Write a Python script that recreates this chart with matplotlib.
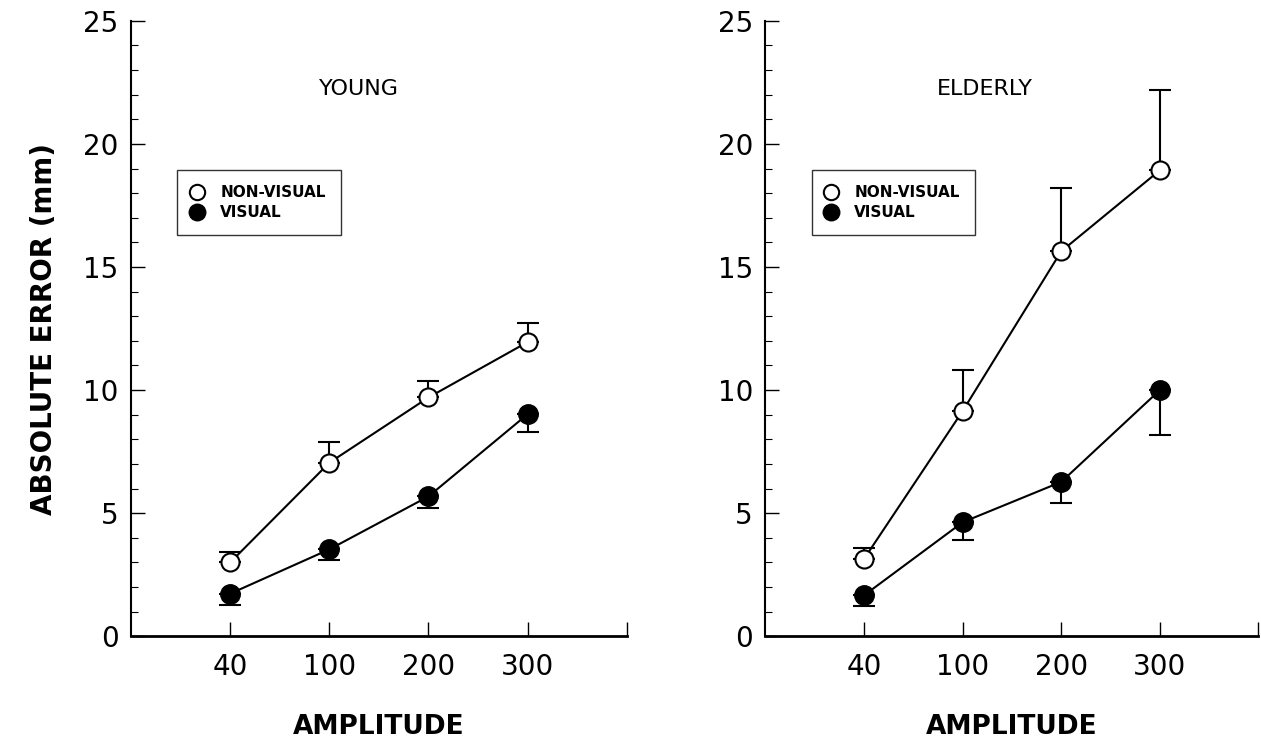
import numpy as np
import matplotlib
matplotlib.use('Agg')
import matplotlib.pyplot as plt
from matplotlib.ticker import MultipleLocator

# data
amplitudes = ['40', '100', '200', '300']
groups = ['YOUNG', 'ELDERLY']

young_nonvis = [3.0, 7.05, 9.7, 11.95]
young_nonvis_err = [0.42, 0.85, 0.68, 0.78]
young_vis = [1.73, 3.53, 5.68, 9.02]
young_vis_err = [0.48, 0.43, 0.46, 0.72]

elderly_nonvis = [3.14, 9.15, 15.64, 18.93]
elderly_nonvis_err = [0.45, 1.65, 2.55, 3.25]
elderly_vis = [1.66, 4.63, 6.27, 10.0]
elderly_vis_err = [0.44, 0.73, 0.85, 1.83]

plt.rcParams['font.family'] = ['DejaVu Sans']

fig = plt.figure(figsize=(12.61, 7.45), dpi=100)
ax1 = fig.add_axes([0.104, 0.146, 0.393, 0.826])
ax2 = fig.add_axes([0.607, 0.146, 0.391, 0.826])

series = [
    (ax1, groups[0], young_nonvis, young_nonvis_err, young_vis, young_vis_err, 0.46),
    (ax2, groups[1], elderly_nonvis, elderly_nonvis_err, elderly_vis, elderly_vis_err, 0.446),
]

x = np.arange(1, len(amplitudes) + 1)

for ax, name, nv, nv_err, v, v_err, tx in series:
    # error bars: non-visual upward only, visual downward only
    ax.errorbar(x, nv, yerr=[np.zeros(len(nv)), nv_err], fmt='none',
                ecolor='black', elinewidth=1.5, capsize=8, capthick=1.5, zorder=2)
    ax.errorbar(x, v, yerr=[v_err, np.zeros(len(v))], fmt='none',
                ecolor='black', elinewidth=1.5, capsize=8, capthick=1.5, zorder=2)
    ax.plot(x, nv, '-o', color='black', lw=1.5, ms=13, mfc='white',
            mec='black', mew=1.5, label='NON-VISUAL', zorder=3)
    ax.plot(x, v, '-o', color='black', lw=1.5, ms=14, mfc='black',
            mec='black', label='VISUAL', zorder=3)

    ax.set_xlim(0, 5)
    ax.set_ylim(0, 25)
    ax.set_xticks(list(x) + [5])
    ax.set_xticklabels(amplitudes + [''])
    ax.yaxis.set_major_locator(MultipleLocator(5))
    ax.yaxis.set_minor_locator(MultipleLocator(1))
    ax.tick_params(axis='both', direction='in', which='major', length=10,
                   width=1.0, labelsize=20)
    ax.tick_params(axis='y', which='major', pad=9)
    ax.tick_params(axis='x', which='major', pad=12)
    ax.tick_params(axis='y', which='minor', direction='in', length=5, width=0.8)
    ax.spines['top'].set_visible(False)
    ax.spines['right'].set_visible(False)
    ax.spines['left'].set_linewidth(1.5)
    ax.spines['bottom'].set_linewidth(2.0)

    ax.text(tx, 0.89, name, transform=ax.transAxes, ha='center',
            va='center', fontsize=16)
    ax.set_xlabel('AMPLITUDE', fontsize=19, fontweight='bold', labelpad=24)

    leg = ax.legend(loc='upper left', bbox_to_anchor=(0.078, 0.77),
                    frameon=True, fancybox=False, edgecolor='black',
                    prop={'size': 11, 'weight': 'bold'}, handlelength=0.6,
                    handletextpad=1.2, borderpad=1.0, labelspacing=0.3,
                    markerscale=0.85)
    leg.get_frame().set_linewidth(1.0)
    for h in leg.get_lines():
        h.set_linestyle('none')

ax1.set_ylabel('ABSOLUTE ERROR (mm)', fontsize=20, fontweight='bold', labelpad=18)

fig.savefig('out.png', dpi=100)
